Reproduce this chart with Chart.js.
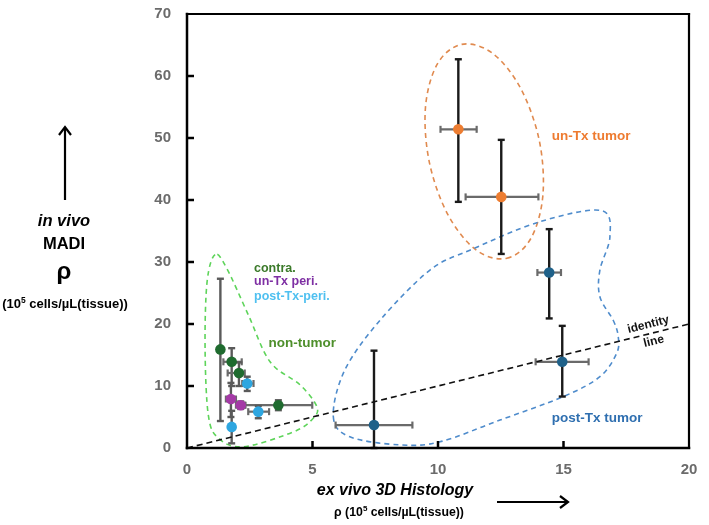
<!DOCTYPE html>
<html><head><meta charset="utf-8">
<script src="https://cdn.jsdelivr.net/npm/chart.js@4.4.0/dist/chart.umd.min.js"></script>
<style>html,body{margin:0;padding:0;background:#fff}#wrap{width:709px;height:525px}</style>
</head><body><div id="wrap"><canvas id="c" width="709" height="525"></canvas></div>
<script>
// ---- tick values ----
const xTicks = [0, 5, 10, 15, 20];
const yTicks = [0, 10, 20, 30, 40, 50, 60, 70];

// ---- contra. (dark green) ----
const contraX   = [1.33, 1.78, 2.07, 3.64];
const contraY   = [15.9, 13.9, 12.1, 6.9];
const contraXLo = [null, 1.45, 1.62, 2.30];
const contraXHi = [null, 2.18, 2.30, 4.99];
const contraYLo = [4.35, 10.0, 10.0, 6.1];
const contraYHi = [27.3, 16.1, 13.8, 7.7];

// ---- un-Tx peri. (purple) ----
const unTxPeriX   = [1.75, 2.14];
const unTxPeriY   = [7.9, 6.9];
const unTxPeriXLo = [1.55, 1.95];
const unTxPeriXHi = [1.95, 2.33];
const unTxPeriYLo = [5.0, 6.3];
const unTxPeriYHi = [10.5, 7.5];

// ---- post-Tx-peri. (light blue) ----
const postTxPeriX   = [2.40, 2.84, 1.78];
const postTxPeriY   = [10.4, 5.86, 3.4];
const postTxPeriXLo = [2.20, 2.44, null];
const postTxPeriXHi = [2.65, 3.27, null];
const postTxPeriYLo = [9.2, 4.8, 0.75];
const postTxPeriYHi = [11.5, 6.8, 6.0];

// ---- un-Tx tumor (orange) ----
const unTxTumorX   = [10.81, 12.52];
const unTxTumorY   = [51.4, 40.5];
const unTxTumorXLo = [10.10, 11.10];
const unTxTumorXHi = [11.54, 14.00];
const unTxTumorYLo = [39.7, 31.3];
const unTxTumorYHi = [62.7, 49.7];

// ---- post-Tx tumor (dark blue) ----
const postTxTumorX   = [7.45, 14.43, 14.95];
const postTxTumorY   = [3.7, 28.3, 13.9];
const postTxTumorXLo = [5.92, 13.96, 13.89];
const postTxTumorXHi = [8.98, 14.90, 16.00];
const postTxTumorYLo = [0.0, 20.9, 8.3];
const postTxTumorYHi = [15.7, 35.3, 19.7];

// ---- identity line ----
const identityX = [0, 20];
const identityY = [0, 20];

// ---- group outlines (closed curves, data space) ----
const unTxOutlineX = [12.74, 13.70, 14.18, 14.03, 13.28, 12.16, 10.94, 9.97, 9.50, 9.66, 10.40, 11.53];
const unTxOutlineY = [30.6, 33.8, 40.8, 49.7, 58.1, 63.7, 65.1, 61.9, 54.9, 46.0, 37.6, 31.9];
const postTxOutlineX = [5.83, 6.49, 8.49, 10.08, 12.47, 15.0, 16.45, 17.12, 17.18, 16.98, 16.45, 16.45, 16.85, 16.5, 14.06, 11.27, 9.68, 7.69, 6.29];
const postTxOutlineY = [5.05, 1.8, 0.5, 1.0, 4.5, 8.3, 11.5, 15.3, 18.0, 20.6, 24.4, 28.7, 34.1, 38.3, 36.5, 31.9, 28.7, 20.6, 12.6];
const nonTumorOutlineX = [1.12, 0.80, 0.72, 0.85, 1.25, 2.24, 4.24, 5.03, 5.17, 4.5, 3.31, 2.44, 1.58];
const nonTumorOutlineY = [31.2, 26.8, 16.1, 5.3, 1.6, 0.2, 2.6, 4.8, 6.7, 10.2, 13.9, 21.5, 29.0];

// ---- annotation labels ----
const labelTexts = ['contra.', 'un-Tx peri.', 'post-Tx-peri.', 'non-tumor', 'un-Tx tumor', 'post-Tx tumor'];
const labelX = [2.67, 2.67, 2.67, 3.25, 14.53, 14.53];
const labelY = [29.0, 26.8, 24.4, 16.9, 50.3, 4.8];
const labelColors = ['#3b7a2a', '#7e2fa3', '#4fc0f0', '#4e8f2b', '#ee7b30', '#2f6fb0'];

const FONT = '"Liberation Sans", Arial, sans-serif';
const zip = (xs, ys) => xs.map((x, i) => ({x: x, y: ys[i]}));

const groups = [
  {x: contraX, y: contraY, xLo: contraXLo, xHi: contraXHi, yLo: contraYLo, yHi: contraYHi, vColor: '#5a5a5a'},
  {x: unTxPeriX, y: unTxPeriY, xLo: unTxPeriXLo, xHi: unTxPeriXHi, yLo: unTxPeriYLo, yHi: unTxPeriYHi, vColor: '#5a5a5a'},
  {x: postTxPeriX, y: postTxPeriY, xLo: postTxPeriXLo, xHi: postTxPeriXHi, yLo: postTxPeriYLo, yHi: postTxPeriYHi, vColor: '#5a5a5a'},
  {x: unTxTumorX, y: unTxTumorY, xLo: unTxTumorXLo, xHi: unTxTumorXHi, yLo: unTxTumorYLo, yHi: unTxTumorYHi, vColor: '#1a1a1a'},
  {x: postTxTumorX, y: postTxTumorY, xLo: postTxTumorXLo, xHi: postTxTumorXHi, yLo: postTxTumorYLo, yHi: postTxTumorYHi, vColor: '#1a1a1a'}
];
const outlines = [
  {x: unTxOutlineX, y: unTxOutlineY, color: '#e08a4f'},
  {x: postTxOutlineX, y: postTxOutlineY, color: '#4f8ccc'},
  {x: nonTumorOutlineX, y: nonTumorOutlineY, color: '#5ed45a'}
];

function seg(ctx, a, b, c, d) { ctx.beginPath(); ctx.moveTo(a, b); ctx.lineTo(c, d); ctx.stroke(); }

function closedSpline(ctx, pts) {
  const n = pts.length;
  ctx.beginPath();
  ctx.moveTo(pts[0][0], pts[0][1]);
  for (let i = 0; i < n; i++) {
    const p0 = pts[(i - 1 + n) % n], p1 = pts[i], p2 = pts[(i + 1) % n], p3 = pts[(i + 2) % n];
    ctx.bezierCurveTo(p1[0] + (p2[0] - p0[0]) / 6, p1[1] + (p2[1] - p0[1]) / 6,
                      p2[0] - (p3[0] - p1[0]) / 6, p2[1] - (p3[1] - p1[1]) / 6,
                      p2[0], p2[1]);
  }
  ctx.closePath();
  ctx.stroke();
}

const underlayPlugin = {
  id: 'underlay',
  beforeDatasetsDraw(chart) {
    const ctx = chart.ctx, sx = chart.scales.x, sy = chart.scales.y;
    ctx.save();
    ctx.lineWidth = 1.6; ctx.setLineDash([5, 4]);
    outlines.forEach(o => {
      ctx.strokeStyle = o.color;
      closedSpline(ctx, o.x.map((v, i) => [sx.getPixelForValue(v), sy.getPixelForValue(o.y[i])]));
    });
    ctx.setLineDash([]);
    ctx.lineCap = 'butt';
    groups.forEach(g => {
      for (let i = 0; i < g.x.length; i++) {
        const cx = sx.getPixelForValue(g.x[i]), cy = sy.getPixelForValue(g.y[i]);
        if (g.xLo[i] !== null) {
          const a = sx.getPixelForValue(g.xLo[i]), b = sx.getPixelForValue(g.xHi[i]);
          ctx.strokeStyle = '#6a6a6a'; ctx.lineWidth = 2.2;
          seg(ctx, a, cy, b, cy); seg(ctx, a, cy - 3.5, a, cy + 3.5); seg(ctx, b, cy - 3.5, b, cy + 3.5);
        }
        if (g.yLo[i] !== null) {
          const a = sy.getPixelForValue(g.yLo[i]), b = sy.getPixelForValue(g.yHi[i]);
          ctx.strokeStyle = g.vColor; ctx.lineWidth = 2.4;
          seg(ctx, cx, a, cx, b); seg(ctx, cx - 3.5, a, cx + 3.5, a); seg(ctx, cx - 3.5, b, cx + 3.5, b);
        }
      }
    });
    ctx.restore();
  }
};

function supText(ctx, parts, cx, y, size) {
  let total = 0;
  parts.forEach(p => { ctx.font = 'bold ' + (p[1] ? size * 0.65 : size) + 'px ' + FONT; total += ctx.measureText(p[0]).width; });
  let x = cx - total / 2;
  ctx.textAlign = 'left'; ctx.textBaseline = 'alphabetic';
  parts.forEach(p => {
    ctx.font = 'bold ' + (p[1] ? size * 0.65 : size) + 'px ' + FONT;
    ctx.fillText(p[0], x, p[1] ? y - size * 0.4 : y);
    x += ctx.measureText(p[0]).width;
  });
}

const decorPlugin = {
  id: 'decor',
  afterDraw(chart) {
    const ctx = chart.ctx, a = chart.chartArea, sx = chart.scales.x, sy = chart.scales.y;
    ctx.save();
    ctx.strokeStyle = '#000'; ctx.lineWidth = 2.5; ctx.lineCap = 'square';
    seg(ctx, a.left, a.top, a.left, a.bottom);
    seg(ctx, a.left, a.bottom, a.right, a.bottom);
    ctx.lineWidth = 2.2;
    seg(ctx, a.left, a.top, a.right, a.top);
    seg(ctx, a.right, a.top, a.right, a.bottom);
    ctx.lineWidth = 2.5; ctx.lineCap = 'butt';
    yTicks.forEach(v => { if (v > 0 && v < 70) { const p = sy.getPixelForValue(v); seg(ctx, a.left, p, a.left + 7, p); } });
    xTicks.forEach(v => { if (v > 0 && v < 20) { const p = sx.getPixelForValue(v); seg(ctx, p, a.bottom, p, a.bottom - 7); } });

    ctx.textAlign = 'left'; ctx.textBaseline = 'middle';
    labelTexts.forEach((t, i) => {
      ctx.font = 'bold ' + (i < 3 ? 12.5 : 13.5) + 'px ' + FONT;
      ctx.fillStyle = labelColors[i];
      ctx.fillText(t, sx.getPixelForValue(labelX[i]), sy.getPixelForValue(labelY[i]));
    });
    const ang = Math.atan2(sy.getPixelForValue(0) - sy.getPixelForValue(20), sx.getPixelForValue(20) - sx.getPixelForValue(0));
    ctx.fillStyle = '#111'; ctx.font = 'bold 12px ' + FONT; ctx.textAlign = 'center';
    [['identity', 18.38, 19.9], ['line', 18.6, 17.2]].forEach(l => {
      ctx.save();
      ctx.translate(sx.getPixelForValue(l[1]), sy.getPixelForValue(l[2]));
      ctx.rotate(-ang);
      ctx.fillText(l[0], 0, 0);
      ctx.restore();
    });

    ctx.fillStyle = '#000'; ctx.strokeStyle = '#000'; ctx.lineWidth = 2.2;
    seg(ctx, 65, 200, 65, 128);
    ctx.beginPath(); ctx.moveTo(59, 135); ctx.lineTo(65, 127); ctx.lineTo(71, 135); ctx.stroke();
    ctx.textAlign = 'center'; ctx.textBaseline = 'middle';
    ctx.font = 'italic bold 16.5px ' + FONT; ctx.fillText('in vivo', 64, 221);
    ctx.font = 'bold 16.5px ' + FONT; ctx.fillText('MADI', 64, 244);
    ctx.font = 'bold 24px ' + FONT; ctx.fillText('\u03c1', 64, 272);
    supText(ctx, [['(10', false], ['5', true], [' cells/\u00b5L(tissue))', false]], 65, 308, 13);

    ctx.textAlign = 'center'; ctx.textBaseline = 'middle';
    ctx.font = 'italic bold 16px ' + FONT; ctx.fillText('ex vivo 3D Histology', 395, 491);
    supText(ctx, [['\u03c1 (10', false], ['5', true], [' cells/\u00b5L(tissue))', false]], 399, 516, 12.3);
    ctx.lineWidth = 2.2;
    seg(ctx, 497, 502, 567, 502);
    ctx.beginPath(); ctx.moveTo(560, 496); ctx.lineTo(568, 502); ctx.lineTo(560, 508); ctx.stroke();
    ctx.restore();
  }
};

const pt = (data, color) => ({
  type: 'scatter', data: data, backgroundColor: color, borderColor: color,
  pointRadius: 5.3, pointHoverRadius: 5.3, borderWidth: 0, order: 1
});

new Chart(document.getElementById('c'), {
  type: 'scatter',
  data: {
    datasets: [
      {type: 'line', data: zip(identityX, identityY), borderColor: '#111', borderWidth: 1.6, borderDash: [6, 4], pointRadius: 0, fill: false, order: 9},
      pt(zip(contraX, contraY), '#1f6b2f'),
      pt(zip(unTxPeriX, unTxPeriY), '#a43aa6'),
      pt(zip(postTxPeriX, postTxPeriY), '#2ea6e0'),
      pt(zip(unTxTumorX, unTxTumorY), '#ed7d31'),
      pt(zip(postTxTumorX, postTxTumorY), '#1f6189')
    ]
  },
  options: {
    responsive: false, animation: false, devicePixelRatio: 1,
    layout: {padding: {left: 0, right: 20, top: 14, bottom: 0}},
    plugins: {legend: {display: false}, tooltip: {enabled: false}},
    scales: {
      x: {
        type: 'linear', min: 0, max: 20,
        afterFit(s) { s.height = 77; s.paddingLeft = 0; s.paddingRight = 0; },
        afterBuildTicks(s) { s.ticks = xTicks.map(v => ({value: v})); },
        grid: {display: false, drawTicks: false}, border: {display: false},
        ticks: {padding: 13, color: '#6b6b6b', font: {family: FONT, size: 15, weight: 'bold'}, maxRotation: 0}
      },
      y: {
        type: 'linear', min: 0, max: 70,
        afterFit(s) { s.width = 187; s.paddingTop = 0; s.paddingBottom = 0; },
        afterBuildTicks(s) { s.ticks = yTicks.map(v => ({value: v})); },
        grid: {display: false, drawTicks: false}, border: {display: false},
        ticks: {padding: 16, color: '#6b6b6b', font: {family: FONT, size: 15, weight: 'bold'}}
      }
    }
  },
  plugins: [underlayPlugin, decorPlugin]
});
</script></body></html>
